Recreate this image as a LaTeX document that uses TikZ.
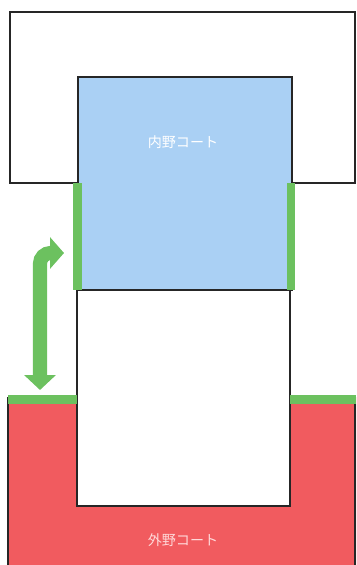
\documentclass[tikz,border=0pt]{standalone}
\usepackage{fontspec}
\newfontfamily\jpfont{Noto Sans CJK JP}
\usetikzlibrary{arrows.meta}
\definecolor{courtblue}{HTML}{AAD0F4}
\definecolor{courtred}{HTML}{F15B5F}
\definecolor{linegreen}{HTML}{6CC15F}
\begin{document}
\begin{tikzpicture}[x=0.03cm,y=-0.03cm,
        wall/.style={draw=black!85,line width=1.8pt,line join=miter},
        side line/.style={draw=linegreen,line width=7.5pt},
        move/.style={draw=linegreen,line width=12pt,rounded corners=9,
          {Triangle[width=0.93cm,length=0.42cm]}-{Triangle[width=0.93cm,length=0.45cm]}},
        court label/.style={font=\jpfont\fontsize{12}{14}\selectfont}]

    \useasboundingbox (0,0) rectangle (356,565);
    \clip (0,0) rectangle (356,565);

    % outer court (red)
    \fill[courtred] (8,397) -- (77,397) -- (77,506) -- (290,506) -- (290,397)
        -- (356,397) -- (356,570) -- (8,570) -- cycle;
    \draw[wall] (8,570) -- (8,397) (77,397) -- (77,506) -- (290,506) -- (290,397)
        (355,397) -- (355,570);

    % top frame and inner court (blue)
    \draw[wall] (78,183) -- (10,183) -- (10,12) -- (355,12) -- (355,183) -- (292,183);
    \filldraw[wall,fill=courtblue] (78,77) rectangle (292,290);
    \draw[wall] (77,290) rectangle (290,506);

    % green lines
    \coordinate (bl1) at (77.5,183);
    \coordinate (bl2) at (77.5,290);
    \coordinate (br1) at (291,183);
    \coordinate (br2) at (291,290);
    \coordinate (rl1) at (8,399.5);
    \coordinate (rl2) at (77,399.5);
    \coordinate (rr1) at (290,399.5);
    \coordinate (rr2) at (356,399.5);
    \path[side line] (bl1) -- (bl2) (br1) -- (br2) (rl1) -- (rl2) (rr1) -- (rr2);

    % arrow between courts
    \coordinate (in) at (64,253);
    \coordinate (out) at (40,390);
    \draw[move] (in) -- (40,253) -- (out);

    \node[court label,text=white] (inner) at (183,142) {内野コート};
    \node[court label,text=red!15] (outer) at (183,540) {外野コート};
\end{tikzpicture}
\end{document}
